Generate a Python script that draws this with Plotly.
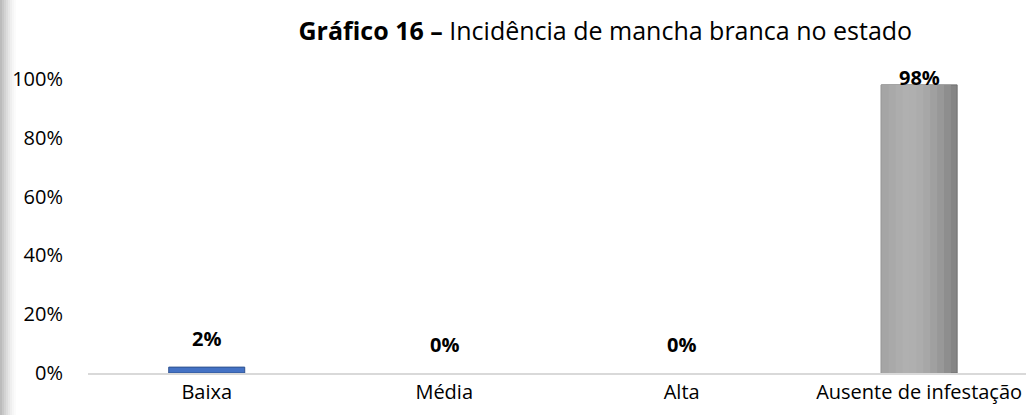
import plotly.graph_objects as go

# ── Dados ──────────────────────────────────────────────────────
categorias = ["Baixa", "Média", "Alta", "Ausente de infestação"]
valores = [0.02, 0.0, 0.0, 0.98]
rotulos = ["2%", "0%", "0%", "98%"]
yticks = [0, 0.2, 0.4, 0.6, 0.8, 1.0]
yticks_txt = ["0%", "20%", "40%", "60%", "80%", "100%"]

_FONT = "Open Sans"
_BLUE = "#4472c4"
_BAR_W = 0.32

fig = go.Figure()

# barra principal (azul para Baixa; cinza escuro = borda direita de Ausente)
cores = [_BLUE, _BLUE, _BLUE, "#858585"]
bordas = ["#2f528f", "#2f528f", "#2f528f", "#6e6e6e"]
larg_borda = [1, 0, 0, 1]
fig.add_trace(go.Bar(
    x=categorias, y=valores, width=_BAR_W,
    marker=dict(color=cores, line=dict(color=bordas, width=larg_borda)),
    hoverinfo="skip",
))

# faixas sobrepostas para imitar o degradê horizontal da barra cinza
degrade = ["#a5a5a5", "#a9a9a9", "#adadad", "#b0b0b0", "#afafaf",
           "#acacac", "#a7a7a7", "#a0a0a0", "#989898", "#8e8e8e"]
ausente_x = [categorias[3]]
ausente_y = [valores[3]]
passo = _BAR_W / (len(degrade) + 1)
for i in range(len(degrade) - 1, -1, -1):
    fig.add_trace(go.Bar(
        x=ausente_x, y=ausente_y, width=passo * (i + 1),
        offset=-_BAR_W / 2 + 0.003,
        marker=dict(color=degrade[i], line=dict(width=0)),
        hoverinfo="skip",
    ))

# rótulos de dados
for cat, val, txt in zip(categorias, valores, rotulos):
    fig.add_annotation(
        x=cat, y=val, text=f"<b>{txt}</b>", showarrow=False,
        yanchor="bottom", yshift=13 if val < 0.9 else -8,
        font=dict(family=_FONT, size=20, color="#000000"),
    )

# faixa cinza à esquerda (borda da página)
tons = ["#bcbcbc", "#c8c8c8", "#d3d3d3", "#dddddd", "#e7e7e7",
        "#efefef", "#f6f6f6", "#fbfbfb"]
for i, c in enumerate(tons):
    fig.add_shape(type="rect", xref="paper", yref="paper",
                  x0=-(88 - 2 * i) / 938, x1=-(88 - 2 * i - 2) / 938,
                  y0=-0.2, y1=1.3, line=dict(width=0), fillcolor=c, layer="below")

fig.update_layout(
    width=1026, height=415,
    barmode="overlay",
    showlegend=False,
    paper_bgcolor="white",
    plot_bgcolor="white",
    margin=dict(l=88, r=0, t=79, b=42),
    font=dict(family=_FONT, color="#000000"),
    title=dict(
        text="<b>Gráfico 16 –</b> Incidência de mancha branca no estado",
        font=dict(family=_FONT, size=25, color="#000000"),
        x=0.59, xanchor="center", y=0.925, yanchor="middle",
    ),
    xaxis=dict(
        range=[-0.5, 3.45],
        showgrid=False, showline=True, linecolor="#d9d9d9", linewidth=2,
        tickfont=dict(family=_FONT, size=20),
        ticks="",
    ),
    yaxis=dict(
        range=[0, 1], tickvals=yticks, ticktext=yticks_txt,
        showgrid=False, zeroline=False, showline=False,
        tickfont=dict(family=_FONT, size=20),
        ticklabelstandoff=24,
    ),
)

fig.write_html(
    "out.html",
    config={"displayModeBar": False},
    post_script="document.body.style.margin='0px';",
)
